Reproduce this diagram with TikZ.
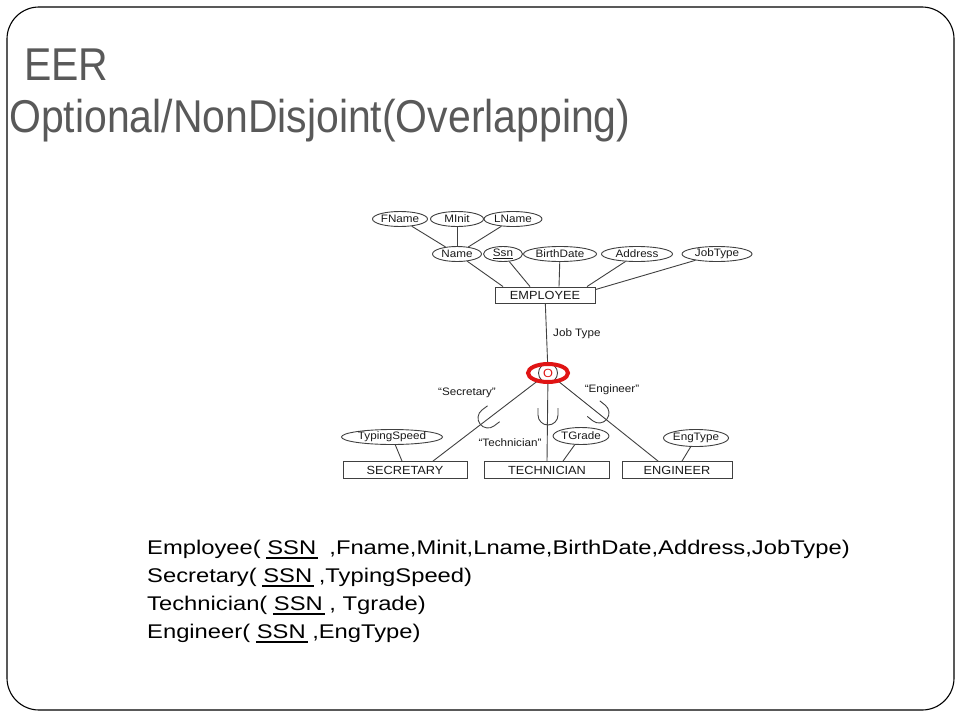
\documentclass[tikz,border=0pt]{standalone}
\usepackage{fontspec}
\usetikzlibrary{shapes.geometric}
\newfontfamily\slidefont[FakeStretch=1.2]{Liberation Sans}
\newfontfamily\diagfont[FakeStretch=1.08]{Liberation Sans}
\newfontfamily\titlefont[FakeStretch=0.89]{Liberation Sans}
\newcommand{\attrfont}{\diagfont\fontsize{10.8}{12}\selectfont}
\newcommand{\entfont}{\diagfont\fontsize{11.8}{13}\selectfont}
\newcommand{\relfont}{\slidefont\fontsize{19.8}{24}\selectfont}
\newcommand{\headfont}{\titlefont\fontsize{46}{50}\selectfont}
\newcommand{\keyattr}[1]{\setbox0=\hbox{#1}\rlap{\kern-1pt\rule[-4.5pt]{\dimexpr\wd0+3pt\relax}{1.6pt}}\box0\relax}
\definecolor{titlegray}{HTML}{595959}
\definecolor{linegray}{HTML}{404040}
\definecolor{markred}{HTML}{E01414}
\tikzset{
  attr/.style={ellipse, draw=linegray, line width=0.9, inner sep=0pt, minimum height=15, font=\attrfont, text=black!90},
  entity/.style={rectangle, draw=linegray, line width=0.9, inner sep=0pt, minimum height=17, font=\entfont, text=black!90},
  lbl/.style={inner sep=0pt, font=\attrfont, text=black!90},
  link/.style={draw=linegray, line width=0.9},
}
\begin{document}
\begin{tikzpicture}[x=1pt, y=-1pt]
  \useasboundingbox (0,0) rectangle (960,720);
  % Slide frame
  \draw[line width=1.1, rounded corners=32] (7,7) rectangle (954,710);

  % Title
  \node[anchor=base west, inner sep=0pt, font=\headfont, text=titlegray] (eer) at (24,80) {EER};
  \node[anchor=base west, inner sep=0pt, font=\headfont, text=titlegray] (opt) at (9,132) {Optional/NonDisjoint(Overlapping)};

  % Attributes of EMPLOYEE
  \node[attr, minimum width=55] (fname) at (400,219) {FName};
  \node[attr, minimum width=53] (minit) at (457,219) {MInit};
  \node[attr, minimum width=58] (lname) at (513,219) {LName};
  \node[attr, minimum width=49] (name) at (457,254) {Name};
  \node[attr, minimum width=39] (ssn) at (503,254) {\underline{Ssn}};
  \node[attr, minimum width=73] (bdate) at (560,254) {BirthDate};
  \node[attr, minimum width=71] (addr) at (637,254) {Address};
  \node[attr, minimum width=70] (jtype) at (717,254) {JobType};

  % Entities
  \node[entity, minimum width=100, minimum height=16] (emp) at (545,295) {EMPLOYEE};
  \node[entity, minimum width=124] (sec) at (405,470) {SECRETARY};
  \node[entity, minimum width=125] (tech) at (547,470) {TECHNICIAN};
  \node[entity, minimum width=110] (eng) at (677,470) {ENGINEER};

  % Attributes of subclasses
  \node[attr, minimum width=101] (tspeed) at (392,437) {TypingSpeed};
  \node[attr, minimum width=55, minimum height=17] (tgrade) at (581,436) {TGrade};
  \node[attr, minimum width=65, minimum height=17] (etype) at (696,438) {EngType};

  % Specialization circle
  \node[circle, draw=linegray, line width=0.9, minimum size=19, inner sep=0pt,
        font=\entfont, text=markred] (ov) at (548,373) {O};

  % Labels
  \node[lbl, anchor=west] (jtlbl) at (553,334) {Job Type};
  \node[lbl] (seclbl) at (467,393) {“Secretary”};
  \node[lbl] (techlbl) at (510,443) {“Technician”};
  \node[lbl] (englbl) at (612,390) {“Engineer”};

  % Composite attribute
  \draw[link] (fname) -- (name);
  \draw[link] (minit) -- (name);
  \draw[link] (lname) -- (name);

  % Attributes to EMPLOYEE
  \draw[link] (name) -- ([xshift=-42]emp.north);
  \draw[link] (ssn) -- ([xshift=-15]emp.north);
  \draw[link] (bdate) -- ([xshift=14]emp.north);
  \draw[link] (addr) -- ([xshift=42]emp.north);
  \draw[link] (jtype) -- ([yshift=-3]emp.north east);

  % Specialization
  \draw[link] (emp) -- (ov);
  \draw[link] (ov) -- ([xshift=28]sec.north);
  \draw[link] (ov) -- (tech.north);
  \draw[link] (ov) -- ([xshift=-19]eng.north);

  % Subset marks
  \coordinate (subsec) at (488,418);
  \coordinate (subtech) at (548,415);
  \coordinate (subeng) at (599,413);
  \draw[link, shift={(subsec)}, rotate=-52.6] (-10,-7) -- (-10,0) arc[start angle=180, end angle=0, radius=10] -- (10,-7);
  \draw[link, shift={(subtech)}] (-10,-7) -- (-10,0) arc[start angle=180, end angle=0, radius=10] -- (10,-7);
  \draw[link, shift={(subeng)}, rotate=51.3] (-10,-7) -- (-10,0) arc[start angle=180, end angle=0, radius=10] -- (10,-7);

  % Attributes to subclasses
  \draw[link] (tspeed) -- ([xshift=-3]sec.north);
  \draw[link] (tgrade) -- ([xshift=16]tech.north);
  \draw[link] (etype) -- ([xshift=5]eng.north);

  % Red mark round the circle
  \node[ellipse, draw=markred, line width=4, minimum width=40, minimum height=18, inner sep=0pt] (mark) at (ov) {};

  % Relations
  \node[anchor=base west, inner sep=0pt, font=\relfont] (emprel) at (147,554) {Employee( \keyattr{SSN}\ \ ,Fname,Minit,Lname,BirthDate,Address,JobType)};
  \node[anchor=base west, inner sep=0pt, font=\relfont] (secrel) at (147,582) {Secretary( \keyattr{SSN} ,TypingSpeed)};
  \node[anchor=base west, inner sep=0pt, font=\relfont] (techrel) at (147,610) {Technician( \keyattr{SSN} , Tgrade)};
  \node[anchor=base west, inner sep=0pt, font=\relfont] (engrel) at (147,638) {Engineer( \keyattr{SSN} ,EngType)};
\end{tikzpicture}
\end{document}
